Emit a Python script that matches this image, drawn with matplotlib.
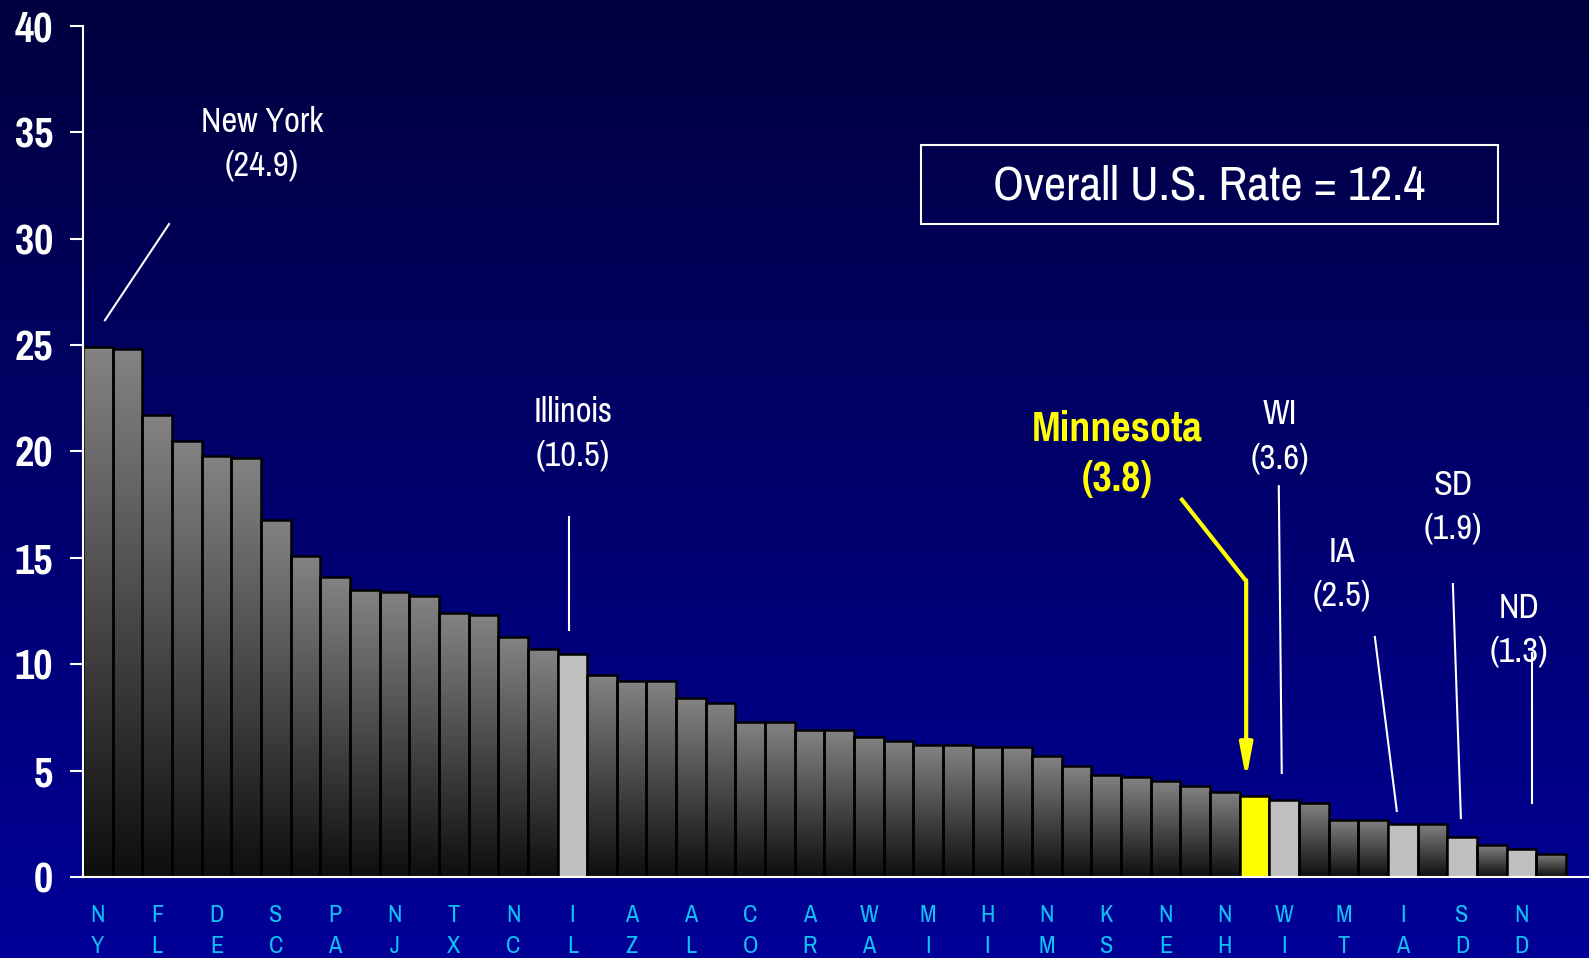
import numpy as np
import matplotlib
matplotlib.use('Agg')
import matplotlib.pyplot as plt
from matplotlib import font_manager
from matplotlib.patches import Rectangle
from matplotlib.colors import LinearSegmentedColormap

# rates per state, sorted high to low (50 bars, every other one labelled)
rates = [24.9, 24.8, 21.7, 20.5, 19.8, 19.7, 16.8, 15.1, 14.1, 13.5,
         13.4, 13.2, 12.4, 12.3, 11.3, 10.7, 10.5, 9.5, 9.2, 9.2,
         8.4, 8.2, 7.3, 7.3, 6.9, 6.9, 6.6, 6.4, 6.2, 6.2,
         6.1, 6.1, 5.7, 5.2, 4.8, 4.7, 4.5, 4.3, 4.0, 3.8,
         3.6, 3.5, 2.7, 2.7, 2.5, 2.5, 1.9, 1.5, 1.3, 1.1]
tick_states = ['NY', 'FL', 'DE', 'SC', 'PA', 'NJ', 'TX', 'NC', 'IL', 'AZ',
               'AL', 'CO', 'AR', 'WA', 'MI', 'HI', 'NM', 'KS', 'NE', 'NH',
               'WI', 'MT', 'IA', 'SD', 'ND']
light_bars = [16, 40, 44, 46, 48]   # IL, WI, IA, SD, ND
mn_bar = 39
us_rate = 12.4

# pick a narrow font (Arial Narrow look)
names = {f.name for f in font_manager.fontManager.ttflist}
narrow = 'Liberation Sans'
for cand in ['Liberation Sans Narrow', 'Arial Narrow', 'Pragati Narrow', 'Roboto Condensed',
             'Archivo Narrow', 'PT Sans Narrow', 'IBM Plex Sans Condensed']:
    if cand in names:
        narrow = cand
        break

fig = plt.figure(figsize=(15.89, 9.58), dpi=100)

# background gradient
bg = fig.add_axes([0, 0, 1, 1], zorder=-1)
bg_cmap = LinearSegmentedColormap.from_list('bg', ['#000098', '#00003f'])
bg.imshow(np.linspace(0, 1, 256).reshape(-1, 1), cmap=bg_cmap, aspect='auto',
          extent=[0, 1, 0, 1], origin='lower')
bg.axis('off')

ax = fig.add_axes([83 / 1589, 81 / 958, 1 - 83 / 1589, (877 - 26) / 958])
ax.set_facecolor('none')

bar_cmap = LinearSegmentedColormap.from_list('bar', ['#0e0e0e', '#838383'])
grad = np.linspace(0, 1, 256).reshape(-1, 1)
for i, v in enumerate(rates):
    if i == mn_bar:
        ax.bar(i, v, width=1.0, color='#ffff00', edgecolor='black', linewidth=1.8, zorder=2)
    elif i in light_bars:
        ax.bar(i, v, width=1.0, color='#c0c0c0', edgecolor='black', linewidth=1.8, zorder=2)
    else:
        b = ax.bar(i, v, width=1.0, color='none', edgecolor='black', linewidth=1.8, zorder=2)[0]
        im = ax.imshow(grad, cmap=bar_cmap, aspect='auto', origin='lower',
                       extent=[i - 0.5, i + 0.5, 0, v], zorder=1.5)
        im.set_clip_path(b)

ax.set_xlim(-0.5, len(rates) + 0.28)
ax.set_ylim(0, 40)

ax.set_xticks(range(0, len(rates), 2))
ax.set_xticklabels(['\n'.join(s) for s in tick_states], fontsize=19,
                   family=narrow, color='#10c0f4', linespacing=1.6)
ax.tick_params(axis='x', length=0, pad=20)
ax.set_yticks(range(0, 41, 5))
ax.set_yticklabels([str(t) for t in range(0, 41, 5)], fontsize=33,
                   family=narrow, fontweight='bold', color='white')
ax.tick_params(axis='y', length=9.5, width=1.5, color='white', pad=12)
for s in ['top', 'right']:
    ax.spines[s].set_visible(False)
for s in ['left', 'bottom']:
    ax.spines[s].set_color('white')
    ax.spines[s].set_linewidth(1.5)

# overall rate box
ax.add_patch(Rectangle((27.74, 30.69), 19.47, 3.71, fill=False, edgecolor='white',
                       linewidth=1.5, clip_on=False))
ax.text(37.46, 32.5, f'Overall U.S. Rate = {us_rate}', ha='center', va='center',
        fontsize=38, family=narrow, color='white')

# state callouts
callouts = [
    ('New York', 0, 5.54, 34.45, [(0.24, 26.17), (2.40, 30.69)]),
    ('Illinois', 16, 16.03, 20.83, [(15.9, 16.92), (15.9, 11.61)]),
    ('WI', 40, 39.85, 20.72, [(39.82, 18.37), (39.92, 4.89)]),
    ('IA', 44, 41.94, 14.26, [(43.06, 11.28), (43.80, 3.10)]),
    ('SD', 46, 45.69, 17.40, [(45.69, 13.77), (45.96, 2.77)]),
    ('ND', 48, 47.91, 11.62, [(48.35, 10.53), (48.35, 3.48)]),
]
for name, idx, tx, ty, seg in callouts:
    ax.text(tx, ty, f'{name}\n({rates[idx]})', ha='center', va='center',
            fontsize=27, family=narrow, color='white', linespacing=1.45)
    ax.plot([seg[0][0], seg[1][0]], [seg[0][1], seg[1][1]], color='white',
            lw=1.5, clip_on=False, zorder=3)

# Minnesota highlight
ax.text(34.38, 19.90, f'Minnesota\n({rates[mn_bar]})', ha='center', va='center',
        fontsize=33, family=narrow, fontweight='bold', color='#ffff00', linespacing=1.4)
ax.plot([36.51, 38.72], [17.81, 13.91], color='#ffff00', lw=3, solid_capstyle='butt', zorder=3)
ax.annotate('', xy=(38.72, 4.6), xytext=(38.72, 13.95),
            arrowprops=dict(arrowstyle='-|>,head_length=2.0,head_width=0.38',
                            color='#ffff00', lw=3, shrinkA=0, shrinkB=0))

fig.savefig('out.png', dpi=100)
